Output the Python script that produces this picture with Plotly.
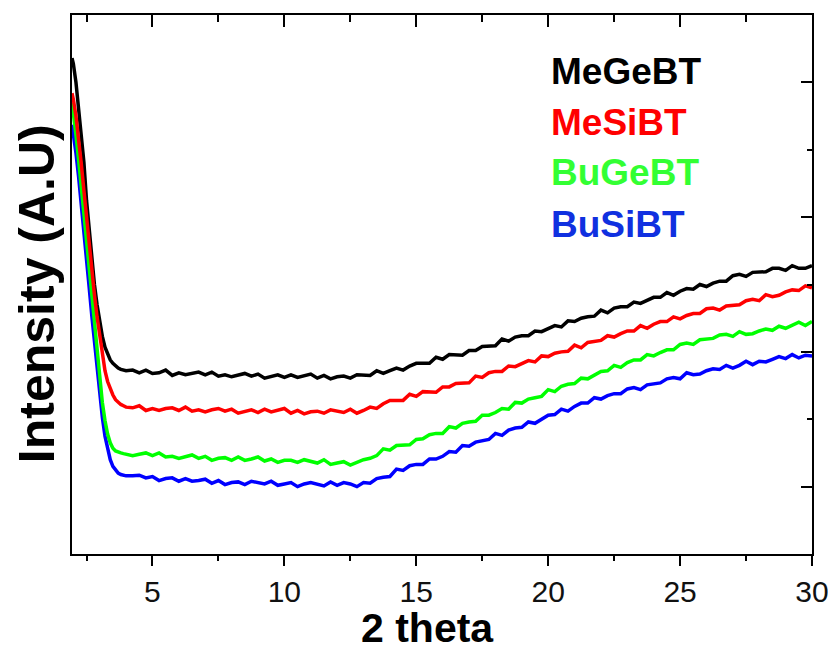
import plotly.graph_objects as go

# ---- data (2 theta in degrees, intensity in arbitrary units) ----
x_drop = [1.95, 2.0, 2.1, 2.2, 2.3, 2.4, 2.5, 2.6, 2.7, 2.8, 2.9, 3.0,
          3.1, 3.2, 3.3, 3.4, 3.5, 3.6, 3.7, 3.8, 3.9, 4.0]
x_rest = [4.25, 4.5, 4.75, 5.0, 5.25, 5.5, 5.75, 6.0, 6.25, 6.5, 6.75, 7.0,
          7.25, 7.5, 7.75, 8.0, 8.25, 8.5, 8.75, 9.0, 9.25, 9.5, 9.75, 10.0,
          10.25, 10.5, 10.75, 11.0, 11.25, 11.5, 11.75, 12.0, 12.25, 12.5, 12.75, 13.0,
          13.25, 13.5, 13.75, 14.0, 14.25, 14.5, 14.75, 15.0, 15.25, 15.5, 15.75, 16.0,
          16.25, 16.5, 16.75, 17.0, 17.25, 17.5, 17.75, 18.0, 18.25, 18.5, 18.75, 19.0,
          19.25, 19.5, 19.75, 20.0, 20.25, 20.5, 20.75, 21.0, 21.25, 21.5, 21.75, 22.0,
          22.25, 22.5, 22.75, 23.0, 23.25, 23.5, 23.75, 24.0, 24.25, 24.5, 24.75, 25.0,
          25.25, 25.5, 25.75, 26.0, 26.25, 26.5, 26.75, 27.0, 27.25, 27.5, 27.75, 28.0,
          28.25, 28.5, 28.75, 29.0, 29.25, 29.5, 29.75, 30.0]
two_theta = x_drop + x_rest

megebt = [736, 728, 700, 664, 624, 582, 525, 480, 437, 400, 370, 345,
          323, 307, 296, 288, 283, 279, 276, 274, 273, 272,
          273, 269, 273, 268, 269, 273, 265, 269, 266, 268, 270, 266,
          270, 264, 266, 263, 266, 268, 264, 267, 261, 264, 266, 262,
          266, 262, 264, 267, 261, 265, 260, 263, 264, 261, 266, 265,
          265, 272, 268, 272, 276, 273, 279, 283, 283, 283, 292, 289,
          296, 296, 295, 302, 302, 308, 309, 309, 319, 316, 322, 324,
          324, 331, 330, 334, 339, 337, 346, 345, 350, 352, 353, 362,
          358, 365, 367, 367, 374, 372, 377, 381, 381, 388, 384, 390,
          394, 393, 400, 397, 402, 405, 405, 413, 415, 412, 418, 419,
          419, 424, 424, 421, 428, 424, 424, 428]

mesibt = [684, 675, 650, 617, 580, 540, 498, 456, 414, 385, 352, 322,
          295, 272, 256, 245, 236, 229, 225, 222, 220, 218,
          217, 220, 213, 216, 213, 216, 217, 213, 218, 212, 214, 211,
          214, 216, 212, 215, 209, 212, 214, 210, 215, 211, 213, 216,
          209, 213, 208, 211, 212, 209, 214, 212, 210, 215, 209, 213,
          218, 216, 223, 228, 228, 228, 237, 234, 241, 241, 240, 248,
          248, 253, 254, 254, 264, 262, 269, 271, 271, 279, 278, 282,
          287, 285, 294, 293, 298, 300, 301, 310, 306, 314, 316, 317,
          324, 322, 327, 331, 331, 339, 335, 341, 345, 345, 352, 349,
          354, 357, 357, 364, 365, 362, 368, 369, 370, 376, 378, 376,
          385, 382, 384, 389, 392, 391, 398, 395]

bugebt = [670, 655, 622, 585, 545, 503, 460, 417, 375, 334, 295, 258,
          225, 198, 178, 165, 157, 153, 151, 150, 149, 148,
          146, 148, 150, 146, 150, 144, 145, 142, 145, 147, 142, 145,
          139, 142, 143, 139, 144, 139, 141, 144, 138, 141, 136, 139,
          139, 136, 140, 138, 135, 140, 133, 135, 137, 132, 136, 140,
          142, 146, 156, 154, 161, 162, 162, 170, 171, 177, 179, 179,
          189, 187, 194, 196, 197, 206, 206, 210, 216, 215, 225, 224,
          230, 232, 234, 244, 241, 249, 252, 253, 261, 260, 266, 271,
          272, 280, 277, 284, 288, 288, 296, 294, 299, 303, 303, 311,
          313, 311, 318, 319, 320, 325, 326, 323, 330, 326, 327, 331,
          334, 332, 338, 335, 339, 344, 339, 345]

busibt = [637, 625, 595, 560, 522, 481, 439, 396, 354, 313, 274, 237,
          203, 175, 155, 140, 130, 124, 120, 118, 117, 116,
          116, 117, 113, 115, 109, 112, 113, 108, 112, 108, 109, 111,
          105, 109, 103, 106, 107, 103, 108, 106, 104, 108, 102, 104,
          106, 100, 104, 106, 103, 101, 107, 102, 106, 104, 100, 106,
          105, 112, 114, 115, 126, 124, 131, 133, 133, 141, 141, 145,
          152, 151, 161, 160, 166, 168, 170, 179, 176, 184, 187, 188,
          196, 194, 200, 206, 207, 215, 212, 219, 224, 224, 232, 230,
          235, 238, 238, 245, 247, 244, 251, 252, 254, 260, 262, 260,
          269, 266, 267, 272, 275, 274, 280, 276, 280, 286, 281, 286,
          285, 289, 293, 290, 296, 291, 295, 294]

series_names = ["MeGeBT", "MeSiBT", "BuGeBT", "BuSiBT"]
series_values = [megebt, mesibt, bugebt, busibt]
series_colors = ["#000000", "#FF0000", "#00FF00", "#0000FF"]
label_colors = ["#000000", "#FF0000", "#33FF33", "#1030E0"]
# axis pair per series; the secondary axes carry the inward ticks on the top and right frame
series_axes = [("x", "y2"), ("x2", "y"), ("x", "y"), ("x", "y")]

x_major = [5, 10, 15, 20, 25, 30]
x_top_text = ["", "", "", "", "", ""]   # the top frame has ticks but no labels
x_minor = [2.5, 7.5, 12.5, 17.5, 22.5, 27.5]
y_major = [100, 300, 500, 700]
y_minor = [200, 400, 600]
x_range = [1.95, 30]
y_range = [0, 800]

fig = go.Figure()
for name, vals, col, (xa, ya) in reversed(list(zip(series_names, series_values,
                                                    series_colors, series_axes))):
    fig.add_trace(go.Scatter(x=two_theta, y=vals, mode="lines", name=name,
                             xaxis=xa, yaxis=ya,
                             line=dict(color=col, width=3.5), showlegend=False))

tickfont = dict(family="Liberation Sans, Arial, sans-serif", size=30, color="#111111")
fig.update_layout(
    width=828, height=644,
    margin=dict(l=64, r=24, t=7, b=98),
    paper_bgcolor="white", plot_bgcolor="white",
    xaxis=dict(range=x_range, tickvals=x_major, ticks="outside", ticklen=10, tickwidth=2,
               tickcolor="black", showline=True, linewidth=2, linecolor="black", mirror=True,
               showgrid=False, zeroline=False, tickfont=tickfont, automargin=False,
               minor=dict(tickvals=x_minor, ticks="outside", ticklen=5, tickwidth=2, tickcolor="black")),
    yaxis=dict(range=y_range, showticklabels=False, ticks="", showline=True, linewidth=2,
               linecolor="black", mirror=True, showgrid=False, zeroline=False, automargin=False),
    xaxis2=dict(range=x_range, overlaying="x", side="top", tickmode="array",
                tickvals=x_major, ticktext=x_top_text, ticks="inside", ticklen=12, tickwidth=2,
                tickcolor="black", showticklabels=True, tickfont=dict(size=10, color="black"),
                showline=False, showgrid=False, zeroline=False, automargin=False,
                minor=dict(tickvals=x_minor, ticks="inside", ticklen=7, tickwidth=2, tickcolor="black")),
    yaxis2=dict(range=y_range, overlaying="y", side="right", anchor="x", tickmode="array",
                tickvals=y_major, ticks="inside", ticklen=11, tickwidth=2, tickcolor="black",
                showticklabels=False, showline=True, linewidth=2, linecolor="black",
                showgrid=False, zeroline=False, automargin=False,
                minor=dict(tickvals=y_minor, ticks="inside", ticklen=5, tickwidth=2, tickcolor="black")),
)

bold = "Liberation Sans, Arial, sans-serif"
fig.add_annotation(text="<b>2 theta</b>", xref="paper", yref="paper", x=0.48, y=-0.181,
                   xanchor="center", yanchor="bottom", showarrow=False, borderpad=0,
                   font=dict(family=bold, size=41, color="black"))
fig.add_annotation(text="<b>Intensity (A.U)</b>", xref="paper", yref="paper", x=-0.048, y=0.483,
                   xanchor="center", yanchor="middle", textangle=-90, showarrow=False, borderpad=0,
                   font=dict(family=bold, size=50, color="black"))

label_y = [0.896, 0.801, 0.707, 0.612]
for name, col, ly in zip(series_names, label_colors, label_y):
    fig.add_annotation(text="<b>" + name + "</b>", xref="paper", yref="paper", x=0.645, y=ly,
                       xanchor="left", yanchor="middle", showarrow=False,
                       font=dict(family=bold, size=37, color=col))

fig.write_html("out.html")
